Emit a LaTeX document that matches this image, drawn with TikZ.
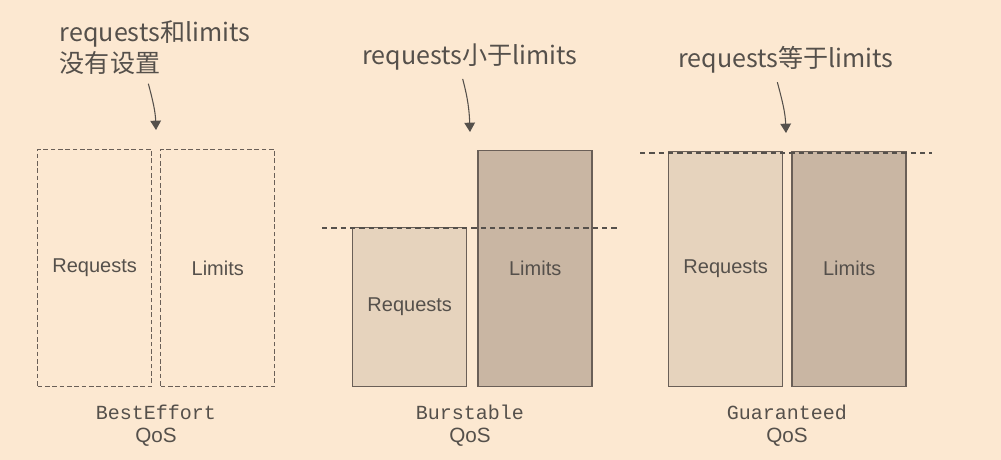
\documentclass[tikz,border=0pt]{standalone}
\usepackage{fontspec}
\setmainfont{Liberation Sans}
\setmonofont{Liberation Mono}
\newfontfamily\cjk{Noto Sans CJK SC}
\usepackage{xcolor}
\usetikzlibrary{positioning, arrows.meta}

\definecolor{paper}{HTML}{FCE8D1}
\definecolor{ink}{HTML}{55504B}
\definecolor{reqfill}{HTML}{E6D3BD}
\definecolor{limfill}{HTML}{C9B6A3}
\definecolor{edge}{HTML}{6A5F57}

\begin{document}
\begin{tikzpicture}[x=0.75pt, y=-0.75pt,
    slot/.style={draw=edge, line width=1.1pt, minimum width=85.5pt, inner sep=0pt, text=ink, font=\fontsize{15}{18}\selectfont, anchor=south west},
    emptyslot/.style={slot, line width=0.9pt, dash pattern=on 3.5pt off 2pt},
    reqslot/.style={slot, fill=reqfill},
    limslot/.style={slot, fill=limfill},
    note/.style={text=ink, font=\cjk\fontsize{18.8}{23.3}\selectfont, align=left},
    qosname/.style={text=ink, font=\ttfamily\fontsize{15}{18}\selectfont},
    qos/.style={text=ink, font=\fontsize{15.5}{18}\selectfont},
    pointer/.style={draw=ink, line width=0.8pt, -{Triangle[width=8pt,length=7pt]}},
    limitline/.style={draw=ink, line width=0.8pt, dash pattern=on 4pt off 3pt},
    node distance=6pt]

  \fill[paper] (0,0) rectangle (1001,460);

  % BestEffort
  \node[emptyslot, minimum height=177.75pt] (be-req) at (37,387) {Requests};
  \node[emptyslot, minimum height=177.75pt, right=6pt of be-req.south east, anchor=south west] (be-lim) {Limits};
  \node[note] (be-note) at (155,48) {requests和limits\\没有设置};
  \coordinate (be-tip) at (156,130);
  \draw[pointer] ([xshift=-5pt, yshift=-3pt]be-note.south) to[out=-75, in=92] (be-tip);
  \node[qosname] (be-name) at (156,412) {BestEffort};
  \node[qos] (be-qos) at (156,437) {QoS};

  % Burstable
  \node[reqslot, minimum height=119.25pt] (bu-req) at (352,387) {Requests};
  \node[limslot, minimum height=177pt, right=7.5pt of bu-req.south east, anchor=south west] (bu-lim) {Limits};
  \draw[limitline] (322,228) -- (620,228);
  \node[note] (bu-note) at (470,57) {requests小于limits};
  \coordinate (bu-tip) at (470,132);
  \draw[pointer] ([xshift=-5.5pt, yshift=-3pt]bu-note.south) to[out=-75, in=92] (bu-tip);
  \node[qosname] (bu-name) at (470,412) {Burstable};
  \node[qos] (bu-qos) at (470,437) {QoS};

  % Guaranteed
  \node[reqslot, minimum height=176.25pt] (gu-req) at (668,387) {Requests};
  \node[limslot, minimum height=176.25pt, right=6pt of gu-req.south east, anchor=south west] (gu-lim) {Limits};
  \draw[limitline] (640,153) -- (932,153);
  \node[note] (gu-note) at (786,60) {requests等于limits};
  \coordinate (gu-tip) at (786,133);
  \draw[pointer] ([xshift=-6.5pt, yshift=-3pt]gu-note.south) to[out=-75, in=92] (gu-tip);
  \node[qosname] (gu-name) at (787,412) {Guaranteed};
  \node[qos] (gu-qos) at (787,437) {QoS};
\end{tikzpicture}
\end{document}
